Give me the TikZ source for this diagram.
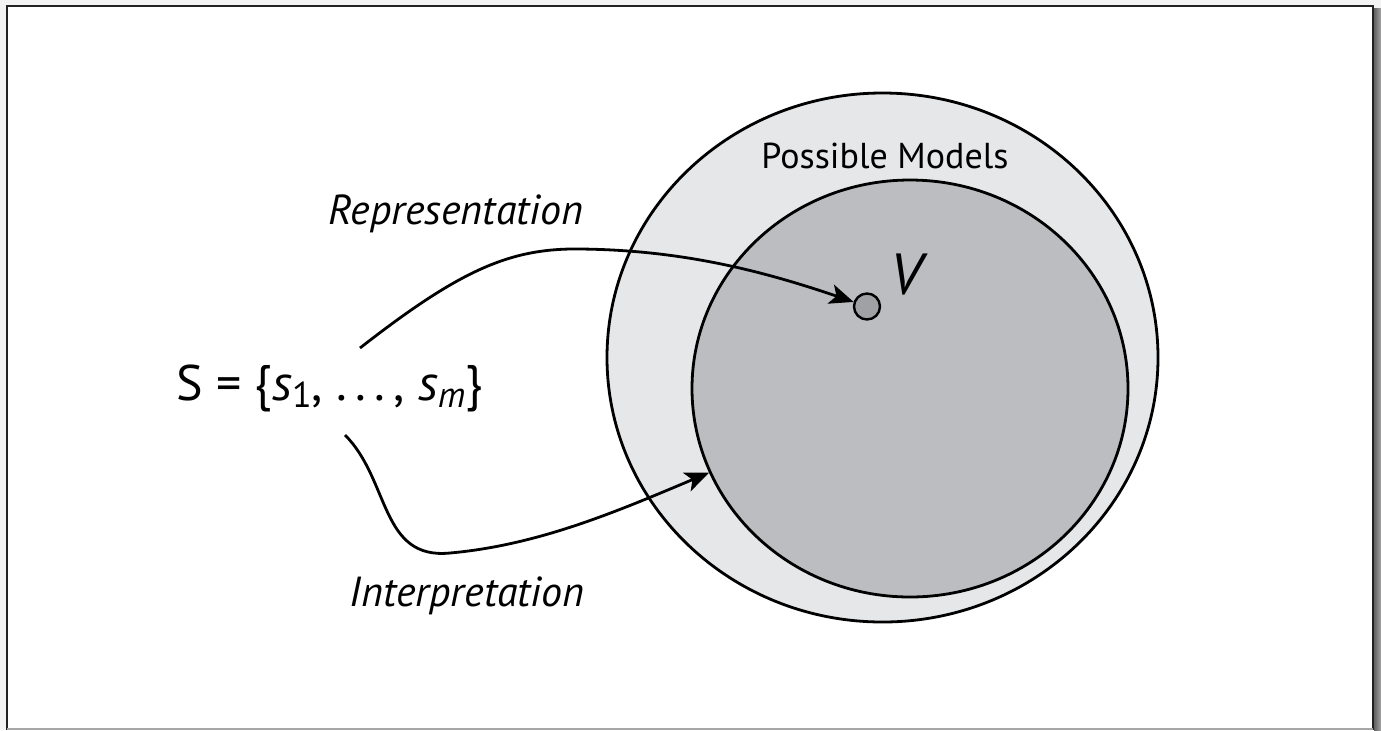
\documentclass[tikz,border=0pt]{standalone}
\usepackage{fontspec}
\setmainfont{PT Sans}
\usetikzlibrary{shapes.geometric,arrows.meta}
\definecolor{outerfill}{HTML}{E6E7E8}
\definecolor{innerfill}{HTML}{BCBDC0}
\definecolor{dotfill}{HTML}{A0A1A4}
\definecolor{margin}{HTML}{F3F3F3}
\definecolor{framecol}{HTML}{222222}
\begin{document}
\begin{tikzpicture}[x=0.5pt,y=-0.5pt,
  region/.style={draw=black,line width=1.4pt,ellipse,inner sep=0pt},
  conn/.style={draw=black,line width=1.4pt,-{Stealth[length=12pt,width=10pt,inset=3pt]}},
  lbl/.style={inner sep=0pt,anchor=base}]
\useasboundingbox (0,0) rectangle (1381,730);
\fill[margin] (0,0) rectangle (1381,730);
\shade[left color=black!62,right color=black!35] (1374,8) rectangle (1381,730);
\fill[white] (6.5,6) rectangle (1373,728);
\draw[framecol,line width=1pt] (6.5,730) -- (6.5,6) -- (1373,6) -- (1373,730);
\draw[black!35,line width=1pt] (6.5,729) -- (1373,729);
\node[region,fill=outerfill,minimum width=275.5pt,minimum height=264.5pt] (outer) at (882.5,357.5) {};
\node[region,fill=innerfill,minimum width=218pt,minimum height=208.5pt] (inner) at (910,388.5) {};
\node[circle,draw=black,line width=1.2pt,fill=dotfill,minimum size=13pt,inner sep=0pt] (v) at (867,306.5) {};
\node[lbl] (vlab) at (906,294) {\fontsize{29}{30}\selectfont\itshape V};
\node[lbl] (pm) at (885,168) {\fontsize{18}{20}\selectfont Possible Models};
\node[lbl] (rep) at (456,224) {\fontsize{21}{24}\selectfont\itshape Representation};
\node[lbl] (int) at (467,606) {\fontsize{21}{24}\selectfont\itshape Interpretation};
\node[lbl,anchor=base west] (set) at (176,400) {\fontsize{25}{28}\selectfont S = \{\textit{s}\raisebox{-0.3ex}{\fontsize{18}{20}\selectfont 1}, .\,.\,.\,, \textit{s}\raisebox{-0.3ex}{\fontsize{18}{20}\selectfont\itshape m}\}};
\coordinate (r0) at (360,348);
\coordinate (i0) at (345,435);
\draw[conn] (r0) .. controls (460,270) and (510,248) .. (580,249) .. controls (680,250) and (760,270) .. (v);
\draw[conn] (i0) .. controls (390,480) and (380,560) .. (450,553) .. controls (540,545) and (620,510) .. (inner);
\end{tikzpicture}
\end{document}
